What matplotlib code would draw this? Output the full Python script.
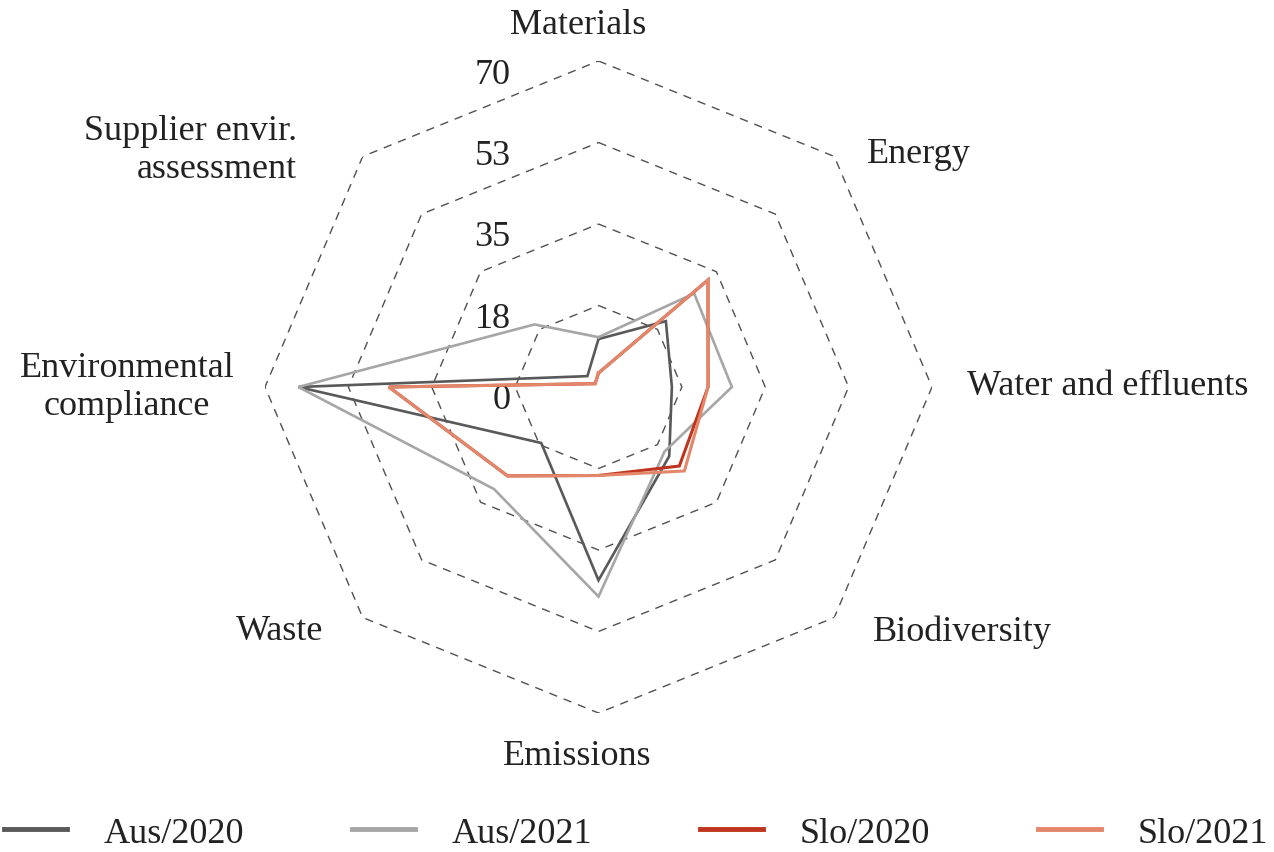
import numpy as np
import matplotlib
matplotlib.use("Agg")
import matplotlib.pyplot as plt
from matplotlib import transforms

# ---------------- data ----------------
categories = ["Materials", "Energy", "Water and effluents", "Biodiversity",
              "Emissions", "Waste", "Environmental\ncompliance",
              "Supplier envir.\nassessment"]
aus_2020 = [10.3, 20.0, 15.4, 21.0, 41.5, 17.0, 63.0, 3.3]
aus_2021 = [10.7, 28.4, 28.0, 19.6, 45.0, 31.0, 63.0, 19.0]
slo_2020 = [3.0, 32.5, 23.0, 24.0, 19.0, 27.0, 44.0, 1.0]
slo_2021 = [3.0, 32.5, 23.0, 25.5, 19.0, 27.0, 44.0, 1.0]
series_names = ["Aus/2020", "Aus/2021", "Slo/2020", "Slo/2021"]
ring_values = [0, 17.5, 35, 52.5, 70]
ring_labels = ["0", "18", "35", "53", "70"]

colors = ["#595959", "#a6a6a6", "#c0341d", "#e3876a"]
widths = [1.9, 1.9, 2.2, 2.2]

plt.rcParams['font.family'] = ['Liberation Serif', 'DejaVu Serif']
FS = 26

W, H = 1274, 853
fig = plt.figure(figsize=(W / 100, H / 100), dpi=100)

# polar axes box in pixels: center (598.5, 388), rx 333.5, ry 326
cx, cy, rx, ry = 598.5, 388.0, 333.5, 326.0
ax = fig.add_axes([(cx - rx) / W, 1 - (cy + ry) / H, 2 * rx / W, 2 * ry / H],
                  projection='polar')
ax.set_aspect('auto')
ax.set_theta_zero_location('N')
ax.set_theta_direction(-1)
ax.set_ylim(0, 70)
ax.grid(False)
ax.spines['polar'].set_visible(False)
ax.set_xticks([])
ax.set_yticks([])
ax.patch.set_visible(False)

n = len(categories)
theta = np.arange(n) * 2 * np.pi / n
theta_c = np.append(theta, theta[0])

# dashed octagon rings
for v in ring_values[1:]:
    ax.plot(theta_c, [v] * (n + 1), color="#505050", lw=1.0,
            linestyle=(0, (6, 5)), zorder=1)

# ring labels
lbl_tr = transforms.offset_copy(ax.transData, fig=fig, x=-88, y=-13, units='dots')
for v, lab in zip(ring_values, ring_labels):
    ax.text(0, v, lab, transform=lbl_tr, ha='right', va='center',
            fontsize=FS, color="#222222")

# series
for name, vals, c, lw in zip(series_names, [aus_2020, aus_2021, slo_2020, slo_2021],
                             colors, widths):
    ax.plot(theta_c, list(vals) + [vals[0]], color=c, lw=lw, label=name,
            solid_joinstyle='miter', zorder=3)

# category labels (pixel positions)
label_pos = [
    (578, 25, 'center'),
    (919, 155, 'center'),
    (1108, 387, 'center'),
    (962, 632, 'center'),
    (577, 757, 'center'),
    (280, 632, 'center'),
    (127, 388, 'center'),
    (297, 150, 'right'),
]
for lab, (x, y, ha) in zip(categories, label_pos):
    fig.text(x / W, 1 - y / H, lab, ha=ha, va='center', fontsize=FS,
             color="#222222", multialignment=ha, linespacing=1.2)

leg = fig.legend(loc='center', bbox_to_anchor=(636 / W, 1 - 834 / H), ncol=4,
                 frameon=False, fontsize=FS, handlelength=1.75,
                 handletextpad=1.0, columnspacing=3.0)
for t in leg.get_texts():
    t.set_color("#222222")
for l in leg.get_lines():
    l.set_linewidth(3.5)

fig.savefig("out.png", dpi=100)
